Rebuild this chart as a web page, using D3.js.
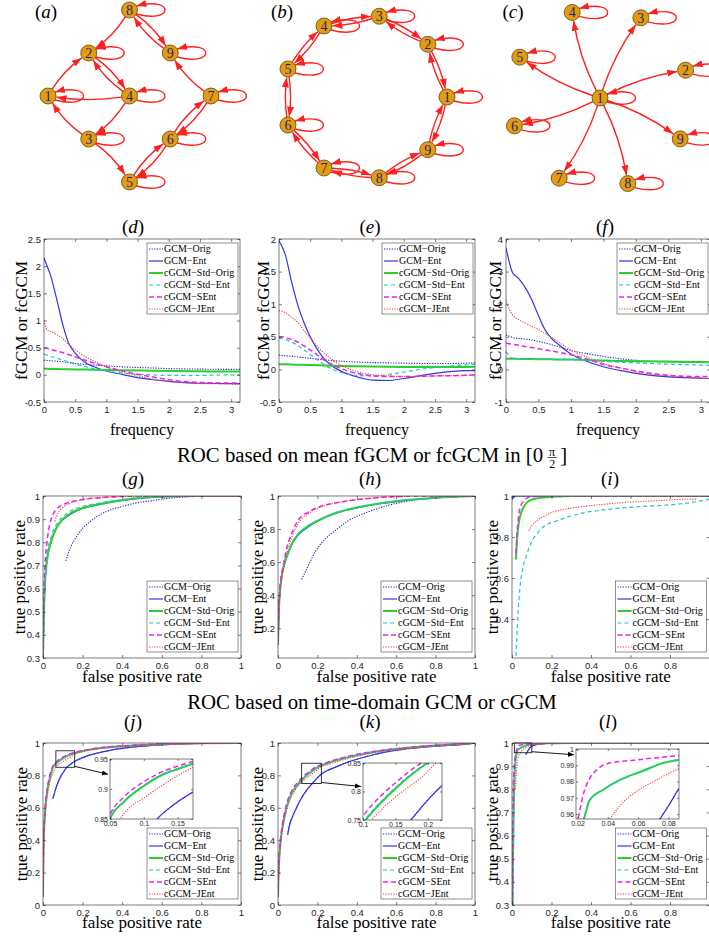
<!DOCTYPE html>
<html>
<head>
<meta charset="utf-8">
<script src="https://cdn.jsdelivr.net/npm/d3@7/dist/d3.min.js"></script>
<style>
body { margin: 0; background: #fff; }
svg { display: block; }
</style>
</head>
<body>
<script>
var width = 709;
var height = 938;
var serif = '"Liberation Serif", "Times New Roman", serif';
var sans = '"Liberation Sans", Arial, sans-serif';
var axisColor = '#262626';

// ---------- data ----------
var seriesNames = ['GCM\u2212Orig', 'GCM\u2212Ent', 'cGCM\u2212Std\u2212Orig', 'cGCM\u2212Std\u2212Ent', 'cGCM\u2212SEnt', 'cGCM\u2212JEnt'];

// networks (a) (b) (c)
var nodeIds = [1, 2, 3, 4, 5, 6, 7, 8, 9];
var gridA = [[0, 2], [1, 1], [1, 3], [2, 2], [2, 4], [3, 3], [4, 2], [2, 0], [3, 1]]; // (col,row) of nodes 1..9
var edgesA = [[8, 2], [8, 9], [9, 8], [1, 2], [2, 4], [4, 2], [4, 1], [4, 3], [3, 1], [3, 5], [5, 6], [6, 5], [6, 7], [7, 6], [7, 9]];
var ringStep = 40; // degrees between ring nodes in (b)
var edgesB = [[1, 2], [2, 1], [2, 3], [3, 2], [3, 4], [4, 3], [4, 5], [5, 4], [5, 6], [6, 5], [6, 7], [7, 6], [7, 8], [8, 7], [8, 9], [9, 8], [9, 1], [1, 9]];
var starAngles = [18, 63, 108, 153, 198, 243, 288, 333]; // nodes 2..9 around hub 1
var edgesC = [[1, 2], [1, 3], [1, 4], [1, 5], [1, 6], [1, 7], [1, 8], [1, 9]];

// frequency domain (d) (e) (f)
var freqX = [0, 0.05, 0.1, 0.2, 0.3, 0.4, 0.5, 0.6, 0.7, 0.8, 1.0, 1.2, 1.5, 1.75, 2.0, 2.5, 3.0, 3.14];
var freqTicks = [0, 0.5, 1, 1.5, 2, 2.5, 3];

var freqD = [
  [0.27, 0.265, 0.26, 0.25, 0.24, 0.225, 0.21, 0.2, 0.19, 0.18, 0.165, 0.15, 0.135, 0.125, 0.115, 0.105, 0.1, 0.1],
  [2.15, 2.0, 1.85, 1.41, 0.93, 0.57, 0.4, 0.28, 0.2, 0.15, 0.07, 0.02, -0.05, -0.09, -0.12, -0.155, -0.16, -0.16],
  [0.11, 0.11, 0.108, 0.106, 0.104, 0.102, 0.1, 0.098, 0.096, 0.094, 0.09, 0.086, 0.08, 0.075, 0.07, 0.065, 0.06, 0.06],
  [0.38, 0.36, 0.34, 0.31, 0.27, 0.24, 0.2, 0.17, 0.14, 0.11, 0.07, 0.04, 0.01, 0.0, -0.01, -0.01, 0, 0],
  [0.5, 0.49, 0.47, 0.44, 0.41, 0.37, 0.33, 0.29, 0.25, 0.22, 0.15, 0.09, 0.01, -0.04, -0.09, -0.14, -0.15, -0.15],
  [1.0, 0.83, 0.8, 0.74, 0.67, 0.55, 0.46, 0.38, 0.31, 0.25, 0.14, 0.07, -0.02, -0.08, -0.12, -0.16, -0.17, -0.18]
];
var freqE = [
  [0.22, 0.215, 0.21, 0.2, 0.19, 0.18, 0.17, 0.16, 0.15, 0.14, 0.125, 0.115, 0.105, 0.1, 0.095, 0.09, 0.095, 0.1],
  [1.97, 1.88, 1.76, 1.35, 0.99, 0.72, 0.5, 0.33, 0.19, 0.09, -0.03, -0.1, -0.165, -0.17, -0.14, -0.06, -0.02, -0.02],
  [0.08, 0.08, 0.078, 0.075, 0.072, 0.07, 0.067, 0.064, 0.06, 0.057, 0.052, 0.048, 0.043, 0.04, 0.038, 0.037, 0.038, 0.04],
  [0.48, 0.47, 0.46, 0.42, 0.37, 0.3, 0.23, 0.16, 0.09, 0.03, -0.05, -0.09, -0.1, -0.08, -0.04, 0.03, 0.07, 0.08],
  [0.5, 0.5, 0.49, 0.46, 0.42, 0.36, 0.3, 0.23, 0.16, 0.1, 0.01, -0.05, -0.1, -0.11, -0.11, -0.1, -0.09, -0.08],
  [0.9, 0.89, 0.87, 0.8, 0.72, 0.6, 0.48, 0.37, 0.27, 0.19, 0.06, -0.02, -0.08, -0.1, -0.11, -0.1, -0.09, -0.1]
];
var freqF = [
  [1.05, 1.02, 0.98, 0.95, 0.93, 0.9, 0.86, 0.81, 0.76, 0.7, 0.58, 0.5, 0.4, 0.33, 0.28, 0.23, 0.22, 0.22],
  [3.73, 3.3, 2.97, 2.78, 2.5, 2.12, 1.65, 1.22, 0.95, 0.78, 0.47, 0.28, 0.08, -0.03, -0.12, -0.23, -0.27, -0.28],
  [0.33, 0.33, 0.33, 0.32, 0.32, 0.32, 0.31, 0.31, 0.31, 0.3, 0.3, 0.29, 0.27, 0.26, 0.25, 0.24, 0.23, 0.22],
  [0.55, 0.42, 0.35, 0.33, 0.32, 0.32, 0.31, 0.31, 0.31, 0.3, 0.3, 0.28, 0.25, 0.22, 0.2, 0.16, 0.13, 0.12],
  [0.8, 0.79, 0.77, 0.74, 0.7, 0.67, 0.63, 0.6, 0.57, 0.53, 0.45, 0.35, 0.15, 0.05, -0.05, -0.18, -0.22, -0.22],
  [2.13, 1.85, 1.67, 1.52, 1.42, 1.32, 1.22, 1.1, 0.98, 0.85, 0.6, 0.42, 0.18, 0.05, -0.07, -0.2, -0.26, -0.28]
];

// ROC curves, [false positive rate, true positive rate]
var rocTicks = [0, 0.2, 0.4, 0.6, 0.8, 1];
var rocTicksShort = [0, 0.2, 0.4, 0.6, 0.8];

var rocG = [
  [[0.115, 0.72], [0.14, 0.78], [0.17, 0.825], [0.2, 0.86], [0.24, 0.89], [0.28, 0.915], [0.32, 0.933], [0.4, 0.955], [0.46, 0.968], [0.55, 0.98], [0.63, 0.99], [0.75, 0.997], [0.85, 1], [1, 1]],
  [[0, 0.3], [0.005, 0.5], [0.01, 0.62], [0.02, 0.72], [0.04, 0.8], [0.07, 0.865], [0.1, 0.897], [0.15, 0.927], [0.2, 0.946], [0.3, 0.966], [0.4, 0.981], [0.5, 0.991], [0.6, 0.996], [0.7, 1], [1, 1]],
  [[0, 0.3], [0.005, 0.5], [0.01, 0.62], [0.02, 0.72], [0.04, 0.8], [0.07, 0.865], [0.1, 0.9], [0.15, 0.93], [0.2, 0.948], [0.3, 0.968], [0.4, 0.982], [0.5, 0.992], [0.6, 0.997], [0.7, 1], [1, 1]],
  [[0, 0.3], [0.005, 0.52], [0.01, 0.64], [0.02, 0.74], [0.04, 0.82], [0.07, 0.88], [0.1, 0.91], [0.15, 0.94], [0.2, 0.955], [0.3, 0.972], [0.4, 0.985], [0.5, 0.994], [0.6, 0.998], [0.7, 1], [1, 1]],
  [[0, 0.3], [0.005, 0.6], [0.01, 0.7], [0.02, 0.8], [0.035, 0.88], [0.05, 0.92], [0.07, 0.945], [0.1, 0.962], [0.15, 0.976], [0.2, 0.985], [0.3, 0.993], [0.4, 0.998], [0.5, 1], [1, 1]],
  [[0.06, 0.89], [0.075, 0.925], [0.1, 0.95], [0.15, 0.972], [0.2, 0.984], [0.3, 0.993], [0.4, 0.998], [0.5, 1], [1, 1]]
];
var rocH = [
  [[0.12, 0.495], [0.15, 0.57], [0.19, 0.665], [0.24, 0.74], [0.29, 0.79], [0.35, 0.845], [0.46, 0.905], [0.55, 0.94], [0.63, 0.963], [0.72, 0.979], [0.8, 0.989], [0.9, 0.996], [1, 1]],
  [[0, 0.1], [0.005, 0.32], [0.01, 0.42], [0.02, 0.52], [0.035, 0.6], [0.05, 0.65], [0.07, 0.705], [0.1, 0.76], [0.15, 0.81], [0.2, 0.847], [0.3, 0.898], [0.4, 0.928], [0.5, 0.95], [0.6, 0.966], [0.7, 0.979], [0.8, 0.989], [0.9, 0.996], [1, 1]],
  [[0, 0.1], [0.005, 0.32], [0.01, 0.42], [0.02, 0.52], [0.035, 0.6], [0.05, 0.65], [0.07, 0.71], [0.1, 0.765], [0.15, 0.815], [0.2, 0.85], [0.3, 0.9], [0.4, 0.93], [0.5, 0.952], [0.6, 0.968], [0.7, 0.98], [0.8, 0.99], [0.9, 0.996], [1, 1]],
  [[0, 0.1], [0.005, 0.33], [0.01, 0.43], [0.02, 0.53], [0.035, 0.61], [0.05, 0.66], [0.07, 0.715], [0.1, 0.768], [0.15, 0.818], [0.2, 0.852], [0.3, 0.901], [0.4, 0.931], [0.5, 0.953], [0.6, 0.969], [0.7, 0.98], [0.8, 0.99], [0.9, 0.996], [1, 1]],
  [[0, 0.1], [0.005, 0.35], [0.01, 0.45], [0.02, 0.54], [0.03, 0.6], [0.045, 0.69], [0.065, 0.76], [0.1, 0.85], [0.15, 0.9], [0.2, 0.93], [0.3, 0.96], [0.4, 0.978], [0.5, 0.99], [0.6, 0.996], [0.7, 1], [1, 1]],
  [[0, 0.1], [0.005, 0.33], [0.01, 0.43], [0.02, 0.52], [0.03, 0.58], [0.045, 0.66], [0.065, 0.735], [0.1, 0.83], [0.15, 0.89], [0.2, 0.925], [0.3, 0.96], [0.4, 0.978], [0.5, 0.99], [0.6, 0.996], [0.7, 1], [1, 1]]
];
var rocI = [
  [[0, 0.985], [0.01, 0.995], [0.02, 1], [1, 1]],
  [[0, 0.985], [0.01, 0.995], [0.02, 1], [1, 1]],
  [[0.02, 0.69], [0.025, 0.78], [0.034, 0.866], [0.045, 0.915], [0.06, 0.948], [0.075, 0.968], [0.093, 0.98], [0.12, 0.988], [0.16, 0.993], [0.25, 0.998], [0.3, 1], [1, 1]],
  [[0.02, 0.22], [0.025, 0.32], [0.03, 0.42], [0.04, 0.55], [0.055, 0.65], [0.07, 0.7], [0.1, 0.78], [0.13, 0.82], [0.16, 0.85], [0.23, 0.88], [0.35, 0.915], [0.5, 0.936], [0.64, 0.948], [0.8, 0.957], [0.9, 0.967], [1, 0.985]],
  [[0.02, 0.72], [0.025, 0.81], [0.032, 0.89], [0.04, 0.94], [0.055, 0.97], [0.076, 0.99], [0.1, 0.996], [0.13, 1], [1, 1]],
  [[0.085, 0.83], [0.1, 0.855], [0.127, 0.88], [0.16, 0.9], [0.21, 0.923], [0.28, 0.938], [0.35, 0.948], [0.45, 0.958], [0.55, 0.967], [0.65, 0.973], [0.74, 0.977], [0.8, 0.981], [0.94, 0.985]]
];
var rocJ = [
  [[0.05, 0.657], [0.065, 0.72], [0.08, 0.77], [0.1, 0.815], [0.12, 0.85], [0.14, 0.87], [0.17, 0.893], [0.2, 0.91], [0.25, 0.93], [0.3, 0.945], [0.35, 0.958], [0.45, 0.975], [0.55, 0.985], [0.65, 0.992], [0.8, 0.998], [1, 1]],
  [[0.05, 0.657], [0.065, 0.72], [0.08, 0.77], [0.1, 0.815], [0.12, 0.85], [0.14, 0.87], [0.17, 0.893], [0.2, 0.91], [0.25, 0.93], [0.3, 0.945], [0.35, 0.958], [0.45, 0.975], [0.55, 0.985], [0.65, 0.992], [0.8, 0.998], [1, 1]],
  [[0, 0.05], [0.003, 0.35], [0.007, 0.5], [0.012, 0.6], [0.02, 0.69], [0.03, 0.76], [0.04, 0.81], [0.05, 0.85], [0.07, 0.878], [0.1, 0.905], [0.13, 0.925], [0.15, 0.933], [0.173, 0.942], [0.2, 0.95], [0.3, 0.97], [0.4, 0.98], [0.5, 0.988], [0.6, 0.993], [0.8, 0.998], [1, 1]],
  [[0, 0.05], [0.003, 0.35], [0.007, 0.5], [0.012, 0.6], [0.02, 0.69], [0.03, 0.76], [0.04, 0.81], [0.05, 0.851], [0.07, 0.879], [0.1, 0.906], [0.13, 0.926], [0.15, 0.934], [0.173, 0.943], [0.2, 0.951], [0.3, 0.97], [0.4, 0.98], [0.5, 0.988], [0.6, 0.993], [0.8, 0.998], [1, 1]],
  [[0, 0.05], [0.003, 0.37], [0.007, 0.52], [0.012, 0.62], [0.02, 0.71], [0.03, 0.78], [0.04, 0.825], [0.05, 0.857], [0.07, 0.886], [0.1, 0.912], [0.13, 0.93], [0.15, 0.938], [0.173, 0.946], [0.2, 0.953], [0.3, 0.972], [0.4, 0.982], [0.5, 0.99], [0.6, 0.994], [0.8, 0.998], [1, 1]],
  [[0, 0.05], [0.003, 0.33], [0.007, 0.47], [0.012, 0.57], [0.02, 0.66], [0.03, 0.73], [0.045, 0.8], [0.065, 0.85], [0.08, 0.87], [0.1, 0.885], [0.13, 0.908], [0.15, 0.922], [0.173, 0.936], [0.2, 0.945], [0.3, 0.966], [0.4, 0.978], [0.5, 0.987], [0.6, 0.992], [0.8, 0.997], [1, 1]]
];
var rocK = [
  [[0.049, 0.435], [0.06, 0.5], [0.075, 0.55], [0.088, 0.585], [0.11, 0.64], [0.14, 0.7], [0.174, 0.75], [0.2, 0.785], [0.222, 0.81], [0.25, 0.83], [0.29, 0.85], [0.35, 0.88], [0.46, 0.92], [0.55, 0.945], [0.63, 0.96], [0.8, 0.98], [0.97, 0.995], [1, 1]],
  [[0.049, 0.435], [0.06, 0.5], [0.075, 0.55], [0.088, 0.585], [0.11, 0.64], [0.14, 0.7], [0.174, 0.75], [0.2, 0.785], [0.222, 0.81], [0.25, 0.83], [0.29, 0.85], [0.35, 0.88], [0.46, 0.92], [0.55, 0.945], [0.63, 0.96], [0.8, 0.98], [0.97, 0.995], [1, 1]],
  [[0, 0.05], [0.003, 0.2], [0.007, 0.3], [0.012, 0.38], [0.02, 0.46], [0.035, 0.56], [0.05, 0.63], [0.07, 0.69], [0.104, 0.75], [0.13, 0.783], [0.15, 0.805], [0.2, 0.85], [0.25, 0.875], [0.3, 0.895], [0.4, 0.925], [0.5, 0.948], [0.6, 0.963], [0.7, 0.975], [0.8, 0.984], [0.9, 0.992], [1, 1]],
  [[0, 0.05], [0.003, 0.2], [0.007, 0.3], [0.012, 0.38], [0.02, 0.46], [0.035, 0.56], [0.05, 0.632], [0.07, 0.692], [0.104, 0.752], [0.13, 0.785], [0.15, 0.807], [0.2, 0.851], [0.25, 0.876], [0.3, 0.896], [0.4, 0.926], [0.5, 0.948], [0.6, 0.963], [0.7, 0.975], [0.8, 0.984], [0.9, 0.992], [1, 1]],
  [[0, 0.05], [0.003, 0.22], [0.007, 0.32], [0.012, 0.4], [0.02, 0.48], [0.035, 0.58], [0.05, 0.65], [0.07, 0.705], [0.1, 0.757], [0.13, 0.795], [0.15, 0.815], [0.19, 0.85], [0.25, 0.88], [0.3, 0.9], [0.4, 0.93], [0.5, 0.95], [0.6, 0.965], [0.7, 0.977], [0.8, 0.985], [0.9, 0.993], [1, 1]],
  [[0, 0.05], [0.003, 0.18], [0.007, 0.28], [0.012, 0.36], [0.02, 0.44], [0.035, 0.54], [0.05, 0.61], [0.07, 0.67], [0.113, 0.75], [0.13, 0.77], [0.15, 0.79], [0.2, 0.835], [0.213, 0.85], [0.25, 0.865], [0.3, 0.885], [0.4, 0.918], [0.5, 0.943], [0.6, 0.96], [0.7, 0.973], [0.8, 0.983], [0.9, 0.992], [1, 1]]
];
var rocL = [
  [[0.07, 0.95], [0.0738, 0.956], [0.08, 0.965], [0.0873, 0.976], [0.1, 0.985], [0.12, 0.992], [0.15, 0.996], [0.2, 0.999], [0.3, 1], [1, 1]],
  [[0.07, 0.95], [0.0738, 0.956], [0.08, 0.965], [0.0873, 0.976], [0.1, 0.985], [0.12, 0.992], [0.15, 0.996], [0.2, 0.999], [0.3, 1], [1, 1]],
  [[0.003, 0.3], [0.005, 0.5], [0.008, 0.68], [0.01, 0.78], [0.013, 0.86], [0.017, 0.915], [0.021, 0.945], [0.024, 0.956], [0.028, 0.9685], [0.037, 0.975], [0.048, 0.981], [0.063, 0.9865], [0.077, 0.9915], [0.088, 0.9935], [0.1, 0.995], [0.15, 0.998], [0.2, 0.999], [0.3, 1], [1, 1]],
  [[0.003, 0.3], [0.005, 0.5], [0.008, 0.68], [0.01, 0.78], [0.013, 0.86], [0.017, 0.915], [0.021, 0.945], [0.024, 0.956], [0.028, 0.9685], [0.037, 0.975], [0.048, 0.981], [0.063, 0.9865], [0.077, 0.9915], [0.088, 0.9935], [0.1, 0.995], [0.15, 0.998], [0.2, 0.999], [0.3, 1], [1, 1]],
  [[0.002, 0.3], [0.004, 0.55], [0.006, 0.75], [0.009, 0.86], [0.012, 0.91], [0.016, 0.94], [0.021, 0.96], [0.0235, 0.971], [0.0275, 0.981], [0.0325, 0.987], [0.042, 0.9915], [0.056, 0.993], [0.088, 0.996], [0.12, 0.998], [0.2, 1], [1, 1]],
  [[0.017, 0.8], [0.02, 0.85], [0.025, 0.9], [0.03, 0.93], [0.035, 0.947], [0.0407, 0.956], [0.0478, 0.965], [0.059, 0.974], [0.0722, 0.981], [0.0873, 0.988], [0.1, 0.991], [0.15, 0.997], [0.2, 0.999], [0.3, 1], [1, 1]]
];

// ---------- styles ----------
var seriesColor = ['#1c1cc4', '#3535e6', '#2ad02a', '#22c6c6', '#ee22ee', '#ef3b3b'];
var seriesDash = ['1.2,1.4', null, null, '4,3', '5,3', '1.2,1.4'];
var seriesWidth = [1.1, 1.2, 2.0, 1.2, 1.5, 1.1];
var edgeColor = '#ff1f1f';
var nodeR = 8;

var svg = d3.select('body').append('svg').attr('width', width).attr('height', height);
var defs = svg.append('defs');

defs.append('marker').attr('id', 'redArrow')
  .attr('viewBox', '0 -4 10 8').attr('refX', 10).attr('refY', 0)
  .attr('markerWidth', 10).attr('markerHeight', 8)
  .attr('markerUnits', 'userSpaceOnUse').attr('orient', 'auto')
  .append('path').attr('d', 'M0,-3.5L10,0L0,3.5Z').attr('fill', edgeColor);

defs.append('marker').attr('id', 'blackArrow')
  .attr('viewBox', '0 -3 6 6').attr('refX', 6).attr('refY', 0)
  .attr('markerWidth', 6).attr('markerHeight', 6)
  .attr('markerUnits', 'userSpaceOnUse').attr('orient', 'auto')
  .append('path').attr('d', 'M0,-2.5L6,0L0,2.5Z').attr('fill', '#000');

function fmt(d) { return String(+d.toFixed(3)); }

function letterTitle(sel, x, y, letter, size) {
  var t = sel.append('text').attr('x', x).attr('y', y).attr('text-anchor', 'middle')
    .style('font-family', serif).style('font-size', size + 'px').attr('fill', '#000');
  t.append('tspan').text('(');
  t.append('tspan').attr('font-style', 'italic').text(letter);
  t.append('tspan').text(')');
}

// ---------- networks ----------
function drawGraph(pos, edges, curv, letter, lx) {
  var g = svg.append('g');
  letterTitle(g, lx, 18, letter, 19);
  edges.forEach(function(e) {
    var a = pos(e[0]), b = pos(e[1]);
    var dx = b[0] - a[0], dy = b[1] - a[1], len = Math.hypot(dx, dy);
    var cx = (a[0] + b[0]) / 2 + dy / len * curv;
    var cy = (a[1] + b[1]) / 2 - dx / len * curv;
    var ua = Math.hypot(cx - a[0], cy - a[1]), ub = Math.hypot(cx - b[0], cy - b[1]);
    var sx = a[0] + (cx - a[0]) / ua * nodeR, sy = a[1] + (cy - a[1]) / ua * nodeR;
    var ex = b[0] + (cx - b[0]) / ub * (nodeR + 0.5), ey = b[1] + (cy - b[1]) / ub * (nodeR + 0.5);
    g.append('path').attr('d', 'M' + sx + ',' + sy + 'Q' + cx + ',' + cy + ' ' + ex + ',' + ey)
      .attr('fill', 'none').attr('stroke', edgeColor).attr('stroke-width', 1.4)
      .attr('marker-end', 'url(#redArrow)');
  });
  nodeIds.forEach(function(n) {
    var p = pos(n), x = p[0], y = p[1];
    var ox = nodeR * 0.87, oy = nodeR * 0.5;
    g.append('path')
      .attr('d', 'M' + (x + ox) + ',' + (y + oy) + 'C' + (x + 45) + ',' + (y + 14) + ' ' + (x + 45) + ',' + (y - 14) + ' ' + (x + ox) + ',' + (y - oy))
      .attr('fill', 'none').attr('stroke', edgeColor).attr('stroke-width', 1.4)
      .attr('marker-end', 'url(#redArrow)');
  });
  nodeIds.forEach(function(n) {
    var p = pos(n);
    g.append('circle').attr('cx', p[0]).attr('cy', p[1]).attr('r', nodeR)
      .attr('fill', '#e49c0b').attr('stroke', '#5a4a20').attr('stroke-width', 0.8);
    g.append('text').attr('x', p[0]).attr('y', p[1]).attr('dy', '0.35em').attr('text-anchor', 'middle')
      .style('font-family', serif).style('font-size', '14px').attr('fill', '#1f1f8f').text(n);
  });
}

var xA = d3.scaleLinear().domain([0, 4]).range([48, 211]);
var yA = d3.scaleLinear().domain([0, 4]).range([10, 182]);
drawGraph(function(n) { var c = gridA[n - 1]; return [xA(c[0]), yA(c[1])]; }, edgesA, 6, 'a', 46);

drawGraph(function(n) {
  var ang = (n - 1) * ringStep * Math.PI / 180;
  return [365 + 82 * Math.cos(ang), 97 - 82 * Math.sin(ang)];
}, edgesB, 4, 'b', 282);

drawGraph(function(n) {
  if (n === 1) return [600, 98];
  var ang = starAngles[n - 2] * Math.PI / 180;
  return [600 + 90 * Math.cos(ang), 98 - 90 * Math.sin(ang)];
}, edgesC, 7, 'c', 513);

// ---------- plotting helpers ----------
function addClip(id, x0, y0, x1, y1) {
  defs.append('clipPath').attr('id', id).append('rect')
    .attr('x', x0).attr('y', y0).attr('width', x1 - x0).attr('height', y1 - y0);
}

function drawSeries(sel, series, line) {
  sel.selectAll('path').data(series).join('path')
    .attr('d', line)
    .attr('fill', 'none')
    .attr('stroke', function(d, i) { return seriesColor[i]; })
    .attr('stroke-width', function(d, i) { return seriesWidth[i]; })
    .attr('stroke-dasharray', function(d, i) { return seriesDash[i]; });
}

function drawAxes(g, x, y, x0, y0, x1, y1, xTicks, yTicks, tick, fs, padX, padY) {
  var axes = [
    g.append('g').attr('transform', 'translate(0,' + y1 + ')')
      .call(d3.axisBottom(x).tickValues(xTicks).tickSizeInner(-tick).tickSizeOuter(0).tickPadding(padX).tickFormat(fmt)),
    g.append('g').attr('transform', 'translate(0,' + y0 + ')')
      .call(d3.axisTop(x).tickValues(xTicks).tickSizeInner(-tick).tickSizeOuter(0).tickFormat('')),
    g.append('g').attr('transform', 'translate(' + x0 + ',0)')
      .call(d3.axisLeft(y).tickValues(yTicks).tickSizeInner(-tick).tickSizeOuter(0).tickPadding(padY).tickFormat(fmt)),
    g.append('g').attr('transform', 'translate(' + x1 + ',0)')
      .call(d3.axisRight(y).tickValues(yTicks).tickSizeInner(-tick).tickSizeOuter(0).tickFormat(''))
  ];
  axes.forEach(function(a) {
    a.select('.domain').remove();
    a.attr('font-family', sans).attr('font-size', fs);
    a.selectAll('line').attr('stroke', axisColor).attr('stroke-width', 0.6);
    a.selectAll('text').attr('fill', axisColor);
  });
  g.append('rect').attr('x', x0).attr('y', y0).attr('width', x1 - x0).attr('height', y1 - y0)
    .attr('fill', 'none').attr('stroke', axisColor).attr('stroke-width', 0.6);
}

function drawLegend(g, left, top) {
  g.append('rect').attr('x', left).attr('y', top).attr('width', 91).attr('height', 71)
    .attr('fill', '#fff').attr('stroke', axisColor).attr('stroke-width', 0.5);
  seriesNames.forEach(function(name, i) {
    var yy = top + 6 + i * 12;
    g.append('line').attr('x1', left + 2).attr('x2', left + 16).attr('y1', yy).attr('y2', yy)
      .attr('stroke', seriesColor[i]).attr('stroke-width', seriesWidth[i])
      .attr('stroke-dasharray', seriesDash[i]);
    g.append('text').attr('x', left + 17).attr('y', yy).attr('dy', '0.33em')
      .style('font-family', serif).style('font-size', '10px').attr('fill', '#000').text(name);
  });
}

function drawInset(g, x, y, p, series, id) {
  var zb = p.zoomBox;
  g.append('rect').attr('x', x(zb[0])).attr('y', y(zb[3]))
    .attr('width', x(zb[1]) - x(zb[0])).attr('height', y(zb[2]) - y(zb[3]))
    .attr('fill', 'none').attr('stroke', '#222').attr('stroke-width', 0.9);
  var sy = y(zb[2]) - 1;
  g.append('line').attr('x1', x(zb[1])).attr('y1', sy).attr('x2', p.x0 - 2).attr('y2', sy + p.arrowDy)
    .attr('stroke', '#000').attr('stroke-width', 0.9).attr('marker-end', 'url(#blackArrow)');

  var ix = d3.scaleLinear().domain(p.xDomain).range([p.x0, p.x1]);
  var iy = d3.scaleLinear().domain(p.yDomain).range([p.y1, p.y0]);
  g.append('rect').attr('x', p.x0).attr('y', p.y0).attr('width', p.x1 - p.x0).attr('height', p.y1 - p.y0)
    .attr('fill', '#fff');
  addClip('clip-inset-' + id, p.x0, p.y0, p.x1, p.y1);
  var line = d3.line().x(function(d) { return ix(d[0]); }).y(function(d) { return iy(d[1]); }).curve(d3.curveMonotoneX);
  drawSeries(g.append('g').attr('clip-path', 'url(#clip-inset-' + id + ')'), series, line);
  drawAxes(g, ix, iy, p.x0, p.y0, p.x1, p.y1, p.xTicks, p.yTicks, 2, 7, 2.5, 2);
}

function drawPanel(p) {
  var x = d3.scaleLinear().domain(p.xDomain).range([p.x0, p.x1]);
  var y = d3.scaleLinear().domain(p.yDomain).range([p.y1, p.y0]);
  var g = svg.append('g');
  addClip('clip-' + p.id, p.x0, p.y0, p.x1, p.y1);
  var line = d3.line().x(function(d) { return x(d[0]); }).y(function(d) { return y(d[1]); }).curve(d3.curveMonotoneX);
  drawSeries(g.append('g').attr('clip-path', 'url(#clip-' + p.id + ')'), p.series, line);
  drawAxes(g, x, y, p.x0, p.y0, p.x1, p.y1, p.xTicks, p.yTicks, 3, 9.5, 4.5, 3);

  letterTitle(g, p.titleX, p.titleY, p.id, 19);

  g.append('text').attr('x', (p.x0 + p.x1) / 2).attr('y', p.xLabelY).attr('text-anchor', 'middle')
    .style('font-family', serif).style('font-size', p.xLabelSize + 'px').attr('fill', '#000').text(p.xLabel);
  g.append('text')
    .attr('transform', 'translate(' + p.yLabelX + ',' + (p.y0 + p.y1) / 2 + ') rotate(-90)')
    .attr('text-anchor', 'middle').attr('dy', '0.33em')
    .style('font-family', serif).style('font-size', '17px').attr('fill', '#000').text(p.yLabel);

  if (p.legend === 'ne') drawLegend(g, p.x1 - 2 - 91, p.y0 + 4);
  else drawLegend(g, p.x1 - 3 - 91, p.y1 - 6 - 71);

  if (p.inset) drawInset(g, x, y, p.inset, p.series, p.id);
}

function toPairs(ys) { return ys.map(function(v, i) { return [freqX[i], v]; }); }

// ---------- row (d)-(f) ----------
[
  { id: 'd', x0: 44, x1: 240, titleX: 133, series: freqD, yDomain: [-0.5, 2.5], yTicks: [-0.5, 0, 0.5, 1, 1.5, 2, 2.5], yLabelX: 21 },
  { id: 'e', x0: 279, x1: 475, titleX: 370, series: freqE, yDomain: [-0.5, 2], yTicks: [-0.5, 0, 0.5, 1, 1.5, 2], yLabelX: 263 },
  { id: 'f', x0: 506, x1: 710, titleX: 605, series: freqF, yDomain: [-1, 4], yTicks: [-1, 0, 1, 2, 3, 4], yLabelX: 495 }
].forEach(function(p) {
  p.series = p.series.map(toPairs);
  p.y0 = 239; p.y1 = 402;
  p.xDomain = [0, Math.PI]; p.xTicks = freqTicks;
  p.titleY = 233;
  p.xLabel = 'frequency'; p.xLabelY = 435; p.xLabelSize = 16;
  p.yLabel = 'fGCM or fcGCM';
  p.legend = 'ne';
  drawPanel(p);
});

// ---------- row (g)-(i) ----------
[
  { id: 'g', x0: 43, x1: 241, titleX: 133, series: rocG, yDomain: [0.3, 1], yTicks: [0.3, 0.4, 0.5, 0.6, 0.7, 0.8, 0.9, 1], xTicks: rocTicks, yLabelX: 19 },
  { id: 'h', x0: 278, x1: 475, titleX: 370, series: rocH, yDomain: [0.02, 1], yTicks: [0.2, 0.4, 0.6, 0.8, 1], xTicks: rocTicks, yLabelX: 257 },
  { id: 'i', x0: 512, x1: 709.5, titleX: 610, series: rocI, yDomain: [0.21, 1], yTicks: [0.4, 0.6, 0.8, 1], xTicks: rocTicksShort, yLabelX: 492 }
].forEach(function(p) {
  p.y0 = 496; p.y1 = 658;
  p.xDomain = [0, 1];
  p.titleY = 485;
  p.xLabel = 'false positive rate'; p.xLabelY = 682; p.xLabelSize = 17;
  p.yLabel = 'true positive rate';
  p.legend = 'se';
  drawPanel(p);
});

// ---------- row (j)-(l) ----------
[
  { id: 'j', x0: 43, x1: 241, titleX: 133, series: rocJ, yDomain: [0, 1], yTicks: [0, 0.2, 0.4, 0.6, 0.8, 1], xTicks: rocTicks, yLabelX: 21,
    inset: { x0: 110, x1: 193, y0: 759, y1: 819, xDomain: [0.05, 0.173], yDomain: [0.85, 0.95], xTicks: [0.05, 0.1, 0.15], yTicks: [0.85, 0.9, 0.95], zoomBox: [0.065, 0.16, 0.85, 0.952], arrowDy: 8 } },
  { id: 'k', x0: 278, x1: 475, titleX: 370, series: rocK, yDomain: [0, 1], yTicks: [0, 0.2, 0.4, 0.6, 0.8, 1], xTicks: rocTicks, yLabelX: 257,
    inset: { x0: 363, x1: 442, y0: 763, y1: 820, xDomain: [0.1, 0.222], yDomain: [0.75, 0.85], xTicks: [0.1, 0.15, 0.2], yTicks: [0.75, 0.8, 0.85], zoomBox: [0.12, 0.22, 0.75, 0.875], arrowDy: 4 } },
  { id: 'l', x0: 512, x1: 709.5, titleX: 608, series: rocL, yDomain: [0.3, 1], yTicks: [0.3, 0.4, 0.5, 0.6, 0.7, 0.8, 0.9, 1], xTicks: rocTicksShort, yLabelX: 492,
    inset: { x0: 576, x1: 679, y0: 749, y1: 819, xDomain: [0.019, 0.087], yDomain: [0.957, 1], xTicks: [0.02, 0.04, 0.06, 0.08], yTicks: [0.96, 0.97, 0.98, 0.99, 1], zoomBox: [0.012, 0.1, 0.958, 1], arrowDy: 3 } }
].forEach(function(p) {
  p.y0 = 743; p.y1 = 905;
  p.xDomain = [0, 1];
  p.titleY = 728;
  p.xLabel = 'false positive rate'; p.xLabelY = 928; p.xLabelSize = 17;
  p.yLabel = 'true positive rate';
  p.legend = 'se';
  drawPanel(p);
});

// ---------- section titles ----------
function sectionTitle(cx, yBase, txt, withFrac) {
  var g = svg.append('g').style('font-family', serif).attr('fill', '#000');
  var main = g.append('text').attr('x', 0).attr('y', yBase).style('font-size', '20.8px').text(txt);
  var total = main.node().getComputedTextLength();
  if (withFrac) {
    var fx = total + 9;
    g.append('text').attr('x', fx).attr('y', yBase - 6).attr('text-anchor', 'middle').style('font-size', '12px').text('\u03c0');
    g.append('line').attr('x1', fx - 4.5).attr('x2', fx + 4.5).attr('y1', yBase - 4.5).attr('y2', yBase - 4.5)
      .attr('stroke', '#000').attr('stroke-width', 0.7);
    g.append('text').attr('x', fx).attr('y', yBase + 5.5).attr('text-anchor', 'middle').style('font-size', '12px').text('2');
    var br = g.append('text').attr('x', fx + 8).attr('y', yBase).style('font-size', '20.8px').text(']');
    total = fx + 8 + br.node().getComputedTextLength();
  }
  g.attr('transform', 'translate(' + (cx - total / 2) + ',0)');
}
sectionTitle(372, 462, 'ROC based on mean fGCM or fcGCM in [0', true);
sectionTitle(372, 709, 'ROC based on time-domain GCM or cGCM', false);
</script>
</body>
</html>
